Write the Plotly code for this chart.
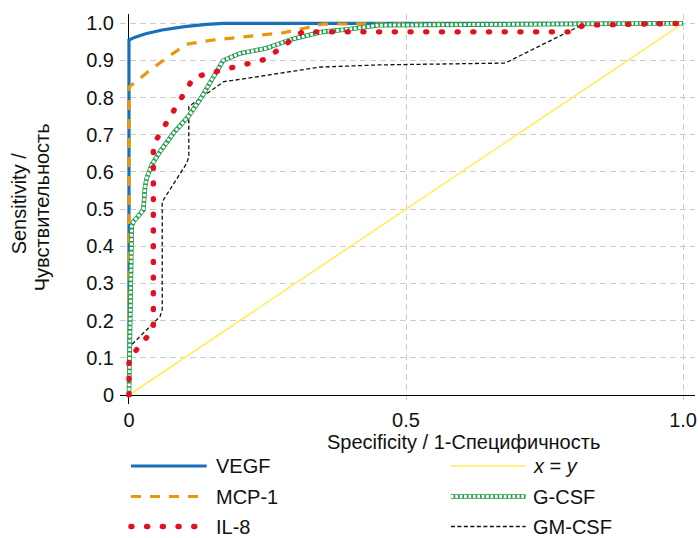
import plotly.graph_objects as go

# ---- data ----
VEGF_x = [0, 0, 0.01, 0.03, 0.06, 0.10, 0.14, 0.17, 1.0]
VEGF_y = [0, 0.955, 0.962, 0.972, 0.982, 0.991, 0.997, 1.0, 1.0]

MCP1_x = [0, 0, 0.02, 0.038, 0.071, 0.104, 0.152, 0.23, 0.28, 0.315, 0.35, 1.0]
MCP1_y = [0, 0.828, 0.852, 0.874, 0.91, 0.944, 0.955, 0.967, 0.975, 0.986, 0.998, 1.0]

IL8_x = [0, 0, 0.044, 0.044, 0.117, 0.246, 0.313, 0.80, 0.82, 1.0]
IL8_y = [0, 0.097, 0.177, 0.673, 0.855, 0.903, 0.977, 0.977, 0.995, 1.0]

GCSF_x = [0, 0.005, 0.008, 0.026, 0.029, 0.032, 0.041, 0.056, 0.08, 0.107, 0.128,
          0.158, 0.17, 0.2, 0.248, 0.296, 0.349, 0.397, 0.451, 1.0]
GCSF_y = [0, 0.455, 0.466, 0.498, 0.56, 0.583, 0.619, 0.655, 0.704, 0.749, 0.794,
          0.87, 0.90, 0.919, 0.933, 0.958, 0.977, 0.984, 0.995, 1.0]

GMCSF_x = [0, 0, 0.056, 0.06, 0.06, 0.104, 0.108, 0.108, 0.171, 0.2, 0.343, 0.45, 0.679, 0.817, 1.0]
GMCSF_y = [0, 0.128, 0.211, 0.229, 0.52, 0.623, 0.641, 0.776, 0.843, 0.849, 0.882, 0.888, 0.893, 0.995, 1.0]

DIAG_x = [0, 1]
DIAG_y = [0, 1]

y_ticks = [0, 0.1, 0.2, 0.3, 0.4, 0.5, 0.6, 0.7, 0.8, 0.9, 1.0]
y_ticktext = ["0", "0.1", "0.2", "0.3", "0.4", "0.5", "0.6", "0.7", "0.8", "0.9", "1.0"]
x_ticks = [0, 0.5, 1.0]
x_ticktext = ["0", "0.5", "1.0"]

series_names = ["VEGF", "MCP-1", "IL-8", "<i>x</i> = <i>y</i>", "G-CSF", "GM-CSF"]

# ---- styling ----
FONT = "Liberation Sans, Arial, sans-serif"
C_VEGF = "#1A6FBA"
C_MCP = "#E8980A"
C_IL8 = "#E3101D"
C_DIAG = "#FFEE58"
C_GCSF = "#1E9A48"
C_GM = "#111111"
IL8_DASH = "1px,14.7px"
GC_W, GC_IN_W, GC_DASH = 4.6, 3.0, "2.8px,1.6px"

W, H = 698, 538
L, R, T, B = 120, 697, 14, 404  # plot area in px


def px(xp):
    return (xp - L) / (R - L)


def py(yp):
    return (B - yp) / (B - T)


fig = go.Figure()
fig.add_trace(go.Scatter(x=DIAG_x, y=DIAG_y, mode="lines", line=dict(color=C_DIAG, width=1.6)))
fig.add_trace(go.Scatter(x=VEGF_x, y=VEGF_y, mode="lines", line=dict(color=C_VEGF, width=3.2)))
fig.add_trace(go.Scatter(x=MCP1_x, y=MCP1_y, mode="lines",
                         line=dict(color=C_MCP, width=3.2, dash="10px,9px")))
fig.add_trace(go.Scatter(x=GMCSF_x, y=GMCSF_y, mode="lines",
                         line=dict(color=C_GM, width=1.3, dash="4px,2.5px")))
fig.add_trace(go.Scatter(x=GCSF_x, y=GCSF_y, mode="lines", line=dict(color=C_GCSF, width=GC_W)))
fig.add_trace(go.Scatter(x=GCSF_x, y=GCSF_y, mode="lines",
                         line=dict(color="white", width=GC_IN_W, dash=GC_DASH)))
fig.add_trace(go.Scatter(x=IL8_x, y=IL8_y, mode="lines",
                         line=dict(color=C_IL8, width=5.4, dash=IL8_DASH)))

x0 = 129
xr = [-(x0 - L) / 556, (R - x0) / 556]
yr = [-(B - 395) / 371.7, (395 - T) / 371.7]

grid = dict(showgrid=True, gridcolor="#CCCCCC", gridwidth=1.4, griddash="6px,4px",
            zeroline=True, zerolinecolor="black", zerolinewidth=1.3,
            showline=False, ticks="", ticklabeloverflow="allow",
            tickfont=dict(family=FONT, size=20, color="#111"))
fig.update_xaxes(range=xr, tickvals=x_ticks, ticktext=x_ticktext, ticklabelstandoff=2, **grid)
fig.update_yaxes(range=yr, tickvals=y_ticks, ticktext=y_ticktext, ticklabelstandoff=5, **grid)

annots = []
tf = dict(family=FONT, size=20, color="#111")
annots.append(dict(x=px(465), y=py(442), xref="paper", yref="paper", text="Specificity / 1-Специфичность",
                   showarrow=False, xanchor="center", yanchor="middle", font=tf))
annots.append(dict(x=px(19), y=py(203), xref="paper", yref="paper", text="Sensitivity /",
                   showarrow=False, xanchor="center", yanchor="middle", textangle=-90, font=tf))
annots.append(dict(x=px(42), y=py(207), xref="paper", yref="paper", text="Чувствительность",
                   showarrow=False, xanchor="center", yanchor="middle", textangle=-90, font=tf))

shapes = []
rows = [466, 496.5, 526.5]
left_sample = (131, 207, 214)
right_sample = (452, 527, 532)


def seg(xa, xb, yp, color, width, dash="solid"):
    shapes.append(dict(type="line", xref="paper", yref="paper", x0=px(xa), x1=px(xb),
                       y0=py(yp), y1=py(yp), line=dict(color=color, width=width, dash=dash)))


styles = [
    [(C_VEGF, 3.2, "solid")],
    [(C_MCP, 3.2, "10px,9px")],
    [(C_IL8, 5.4, IL8_DASH)],
    [(C_DIAG, 1.6, "solid")],
    [(C_GCSF, GC_W, "solid"), ("white", GC_IN_W, GC_DASH)],
    [(C_GM, 1.3, "4px,2.5px")],
]
for i, name in enumerate(series_names):
    col = left_sample if i < 3 else right_sample
    yp = rows[i % 3]
    for c, w, d in styles[i]:
        seg(col[0], col[1], yp, c, w, d)
    annots.append(dict(x=px(col[2]), y=py(yp), xref="paper", yref="paper", text=name,
                       showarrow=False, xanchor="left", yanchor="middle", font=tf))

fig.update_layout(width=W, height=H, margin=dict(l=L, r=W - R, t=T, b=H - B),
                  plot_bgcolor="white", paper_bgcolor="white", showlegend=False,
                  annotations=annots, shapes=shapes)

post = """
document.body.style.margin = '0';
document.body.style.overflow = 'hidden';
document.querySelectorAll('path').forEach(function(p){
  var d = p.style.strokeDasharray || '';
  if (d.indexOf('14.7') >= 0) { p.style.strokeLinecap = 'round'; }
});
"""
fig.write_html("out.html", post_script=post, config={"displayModeBar": False})
